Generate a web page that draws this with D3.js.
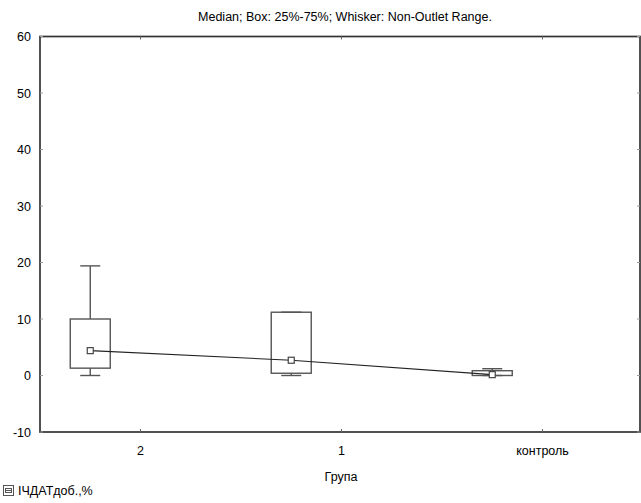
<!DOCTYPE html>
<html>
<head>
<meta charset="utf-8">
<script src="https://cdn.jsdelivr.net/npm/d3@7"></script>
<style>
body { margin: 0; background: #fff; }
text { font-family: "Liberation Sans", Arial, sans-serif; fill: #000; }
</style>
</head>
<body>
<script>
// data
var groups = ["2", "1", "контроль"];
var medians = [4.4, 2.7, 0.15];
var q1 = [1.3, 0.4, 0.0];
var q3 = [10.0, 11.2, 0.85];
var whiskLo = [0, 0, 0];
var whiskHi = [19.4, 11.2, 1.2];
var yTicks = [-10, 0, 10, 20, 30, 40, 50, 60];

var W = 641, H = 503;
var margin = {top: 36.5, left: 40, right: 1, bottom: 71};

var svg = d3.select("body").append("svg")
    .attr("width", W)
    .attr("height", H);

var xScale = d3.scaleBand()
    .domain(groups)
    .range([margin.left, 643])
    .padding(0);

var yScale = d3.scaleLinear()
    .domain([-10, 60])
    .range([H - margin.bottom, margin.top]);

var x0 = margin.left, x1 = W - margin.right;
var y0 = yScale(60), y1 = yScale(-10);
var bw = xScale.bandwidth();

// title
svg.append("text")
    .attr("x", 345)
    .attr("y", 21)
    .attr("text-anchor", "middle")
    .style("font-size", "12.5px")
    .text("Median; Box: 25%-75%; Whisker: Non-Outlet Range.");

// frame
svg.append("rect")
    .attr("x", x0)
    .attr("y", y0)
    .attr("width", x1 - x0)
    .attr("height", y1 - y0)
    .style("fill", "none")
    .style("stroke", "#333")
    .style("stroke-width", 1.7);

// y ticks left + right (inside)
var axes = svg.append("g").attr("id", "axes");
yTicks.forEach(function(t) {
    axes.append("line")
        .attr("x1", x0).attr("x2", x0 + 3)
        .attr("y1", yScale(t)).attr("y2", yScale(t))
        .style("stroke", "#999");
    axes.append("line")
        .attr("x1", x1 - 3).attr("x2", x1)
        .attr("y1", yScale(t)).attr("y2", yScale(t))
        .style("stroke", "#999");
    axes.append("text")
        .attr("x", 31)
        .attr("y", yScale(t) + 4.5)
        .attr("text-anchor", "end")
        .style("font-size", "12.5px")
        .text(t);
});

// x ticks top + bottom
groups.forEach(function(g) {
    var cx = xScale(g) + bw / 2;
    axes.append("line")
        .attr("x1", cx).attr("x2", cx)
        .attr("y1", y1).attr("y2", y1 - 3)
        .style("stroke", "#666");
    axes.append("line")
        .attr("x1", cx).attr("x2", cx)
        .attr("y1", y0).attr("y2", y0 + 3)
        .style("stroke", "#666");
    axes.append("text")
        .attr("x", cx)
        .attr("y", 455)
        .attr("text-anchor", "middle")
        .style("font-size", "12.5px")
        .text(g);
});

// x axis title
svg.append("text")
    .attr("x", 341)
    .attr("y", 481)
    .attr("text-anchor", "middle")
    .style("font-size", "12.5px")
    .text("Група");

// boxes
var boxes = svg.append("g").attr("id", "boxes");
var boxW = 40, capW = 20;
var centers = groups.map(function(g) { return xScale(g) + bw / 4; });

groups.forEach(function(g, i) {
    var cx = centers[i];
    var st = "#555";
    // whiskers
    boxes.append("line")
        .attr("x1", cx).attr("x2", cx)
        .attr("y1", yScale(q3[i])).attr("y2", yScale(whiskHi[i]))
        .style("stroke", st).style("stroke-width", 1.4);
    boxes.append("line")
        .attr("x1", cx).attr("x2", cx)
        .attr("y1", yScale(q1[i])).attr("y2", yScale(whiskLo[i]))
        .style("stroke", st).style("stroke-width", 1.4);
    boxes.append("line")
        .attr("x1", cx - capW / 2).attr("x2", cx + capW / 2)
        .attr("y1", yScale(whiskHi[i])).attr("y2", yScale(whiskHi[i]))
        .style("stroke", st).style("stroke-width", 1.4);
    boxes.append("line")
        .attr("x1", cx - capW / 2).attr("x2", cx + capW / 2)
        .attr("y1", yScale(whiskLo[i])).attr("y2", yScale(whiskLo[i]))
        .style("stroke", st).style("stroke-width", 1.4);
    // box
    boxes.append("rect")
        .attr("x", cx - boxW / 2)
        .attr("y", yScale(q3[i]))
        .attr("width", boxW)
        .attr("height", yScale(q1[i]) - yScale(q3[i]))
        .style("fill", "none")
        .style("stroke", st)
        .style("stroke-width", 1.4);
});

// line through medians
var medLine = d3.line()
    .x(function(d, i) { return centers[i]; })
    .y(function(d) { return yScale(d); });

boxes.append("path")
    .datum(medians)
    .attr("d", medLine)
    .style("fill", "none")
    .style("stroke", "#222")
    .style("stroke-width", 1.1);

boxes.selectAll(".med")
    .data(medians)
    .enter()
    .append("rect")
    .attr("class", "med")
    .attr("x", function(d, i) { return centers[i] - 3; })
    .attr("y", function(d) { return yScale(d) - 3; })
    .attr("width", 6)
    .attr("height", 6)
    .style("fill", "#fff")
    .style("stroke", "#444")
    .style("stroke-width", 1.2);

// legend
var leg = svg.append("g").attr("id", "legend");
leg.append("rect")
    .attr("x", 3.5).attr("y", 485.5)
    .attr("width", 10).attr("height", 10)
    .style("fill", "none").style("stroke", "#555");
leg.append("rect")
    .attr("x", 5.5).attr("y", 488.5)
    .attr("width", 6).attr("height", 4)
    .style("fill", "none").style("stroke", "#555");
leg.append("line")
    .attr("x1", 5.5).attr("x2", 11.5)
    .attr("y1", 490.5).attr("y2", 490.5)
    .style("stroke", "#555");
leg.append("text")
    .attr("x", 18)
    .attr("y", 495)
    .style("font-size", "12.5px")
    .text("ІЧДАТдоб.,%");
</script>
</body>
</html>
